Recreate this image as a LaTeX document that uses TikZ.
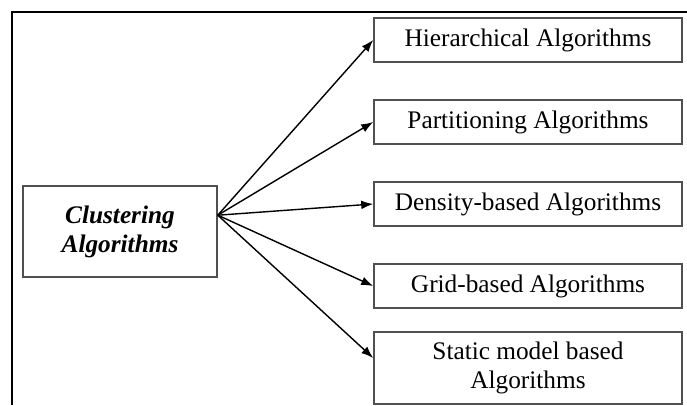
\documentclass[tikz,border=0pt]{standalone}
\usepackage{fontspec}
\setmainfont{Liberation Serif}
\usepackage{xcolor}
\usepackage{tikz}
\usetikzlibrary{arrows.meta}
\definecolor{boxgray}{RGB}{80,80,80}

\begin{document}
\begin{tikzpicture}[node distance=2.05cm, >={Latex[length=3mm, width=2.2mm]},
  algo/.style={rectangle, draw=boxgray, line width=1.1pt,
  minimum width=7.7cm, minimum height=1.1cm, align=center,
  font=\fontsize{18}{20.5}\selectfont},
  root/.style={algo, minimum width=4.85cm, minimum height=2.275cm,
  font=\fontsize{18}{20.5}\selectfont\bfseries\itshape}]
  \useasboundingbox (0,0) rectangle (17.175,-10.125);
  \draw[line width=1.1pt] (17.175,-0.3) -- (0.3,-0.3) -- (0.3,-10.125);
  \node (C) [root] at (3.0,-5.79) {Clustering\\Algorithms};
  \coordinate (hub) at ([yshift=0.41cm]C.east);
  \node (H) [algo] at (13.2,-1.0) {Hierarchical Algorithms};
  \node (P) [algo, below of=H] {Partitioning Algorithms};
  \node (D) [algo, below of=P] {Density-based Algorithms};
  \node (G) [algo, below of=D] {Grid-based Algorithms};
  \node (S) [algo, below of=G, minimum height=1.8cm] {Static model based\\Algorithms};
  \draw[->, line width=1pt] (hub) -- (H.west);
  \draw[->, line width=1pt] (hub) -- (P.west);
  \draw[->, line width=1pt] (hub) -- (D.west);
  \draw[->, line width=1pt] (hub) -- (G.west);
  \draw[->, line width=1pt] (hub) -- ([yshift=0.25cm]S.west);
\end{tikzpicture}
\end{document}
